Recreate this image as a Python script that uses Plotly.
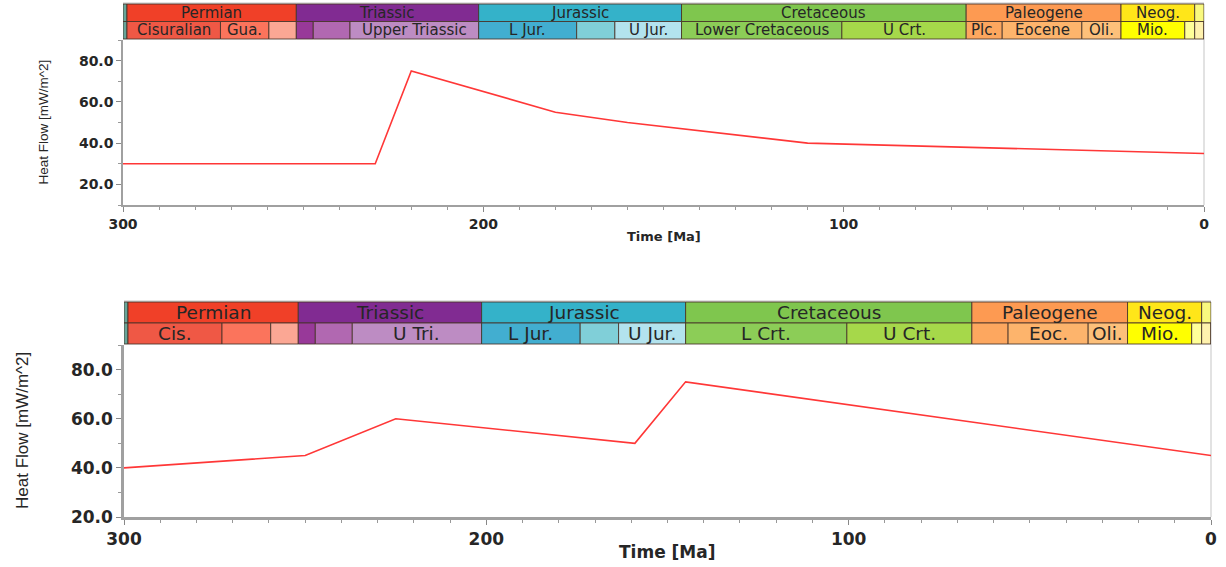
import plotly.graph_objects as go

# ---------------- data ----------------
top_time = [300, 230, 220, 180, 160, 110, 0]
top_heat = [30, 30, 75, 55, 50, 40, 35]

bot_time = [300, 250, 225, 159, 145, 0]
bot_heat = [40, 45, 60, 50, 75, 45]

period_names = ["Carboniferous", "Permian", "Triassic", "Jurassic", "Cretaceous", "Paleogene", "Neogene", "Quaternary"]
period_start = [300, 298.9, 251.9, 201.3, 145.0, 66.0, 23.03, 2.58]
period_end = [298.9, 251.9, 201.3, 145.0, 66.0, 23.03, 2.58, 0]
period_colors = ["#67A599", "#F04028", "#812B92", "#34B2C9", "#7FC64E", "#FD9A52", "#FFE619", "#F9F97F"]
period_labels_top = ["", "Permian", "Triassic", "Jurassic", "Cretaceous", "Paleogene", "Neog.", ""]
period_labels_bot = ["", "Permian", "Triassic", "Jurassic", "Cretaceous", "Paleogene", "Neog.", ""]

epoch_start = [300, 298.9, 272.95, 259.51, 251.9, 247.2, 237.0, 201.3, 174.1, 163.5, 145.0, 100.5, 66.0, 56.0, 33.9, 23.03, 5.333, 2.58, 0.0117]
epoch_end = [298.9, 272.95, 259.51, 251.9, 247.2, 237.0, 201.3, 174.1, 163.5, 145.0, 100.5, 66.0, 56.0, 33.9, 23.03, 5.333, 2.58, 0.0117, 0]
epoch_colors = ["#67A599", "#EF5845", "#FB745C", "#FBA794", "#983999", "#B168B1", "#BD8CC3",
                "#42AED0", "#80CFD8", "#B3E3EE", "#8CCD57", "#A6D84A", "#FDA75F", "#FDB46C",
                "#FDC07A", "#FFFF00", "#FFFF99", "#FFF2AE", "#FEF2E0"]
epoch_labels_top = ["", "Cisuralian", "Gua.", "", "", "", "Upper Triassic", "L Jur.", "", "U Jur.",
                    "Lower Cretaceous", "U Crt.", "Plc.", "Eocene", "Oli.", "Mio.", "", "", ""]
epoch_labels_bot = ["", "Cis.", "", "", "", "", "U Tri.", "L Jur.", "", "U Jur.",
                    "L Crt.", "U Crt.", "", "Eoc.", "Oli.", "Mio.", "", "", ""]

W, H = 1226, 567


def px_y(py):
    return 1 - py / H


panels = [
    dict(xa="x", ya="y", xdom=(123 / W, 1204 / W), ydom=(px_y(205), px_y(40)),
         yrange=[10, 90], strip=(4, 21.5, 39), t=top_time, v=top_heat,
         plab=period_labels_top, elab=epoch_labels_top,
         fs_strip=15, fs_tick=14, fs_xt=13, fs_yt=13.5, ytitle_x=43 / W, xtitle_y=px_y(237),
         lw=1.5),
    dict(xa="x2", ya="y2", xdom=(124 / W, 1211 / W), ydom=(px_y(517), px_y(345)),
         yrange=[20, 90], strip=(302, 323, 344), t=bot_time, v=bot_heat,
         plab=period_labels_bot, elab=epoch_labels_bot,
         fs_strip=18.5, fs_tick=17, fs_xt=17, fs_yt=17, ytitle_x=22 / W, xtitle_y=px_y(552),
         lw=2.5),
]

fig = go.Figure()
shapes = []
annotations = []
FONT = "DejaVu Sans"
TXT = "#262626"
border = "rgba(70,50,40,0.85)"

for i, p in enumerate(panels):
    fig.add_trace(go.Scatter(x=p["t"], y=p["v"], mode="lines",
                             line=dict(color="rgb(255,55,55)", width=1.6),
                             xaxis=p["xa"], yaxis=p["ya"], showlegend=False,
                             hoverinfo="skip"))
    suffix = "" if i == 0 else "2"
    axis_common = dict(showgrid=False, zeroline=False, showline=True, automargin=False,
                       linecolor="#a0a0a0", linewidth=p["lw"], ticks="outside",
                       ticklen=5, tickcolor="#888", tickwidth=1,
                       tickfont=dict(family=FONT, size=p["fs_tick"], color=TXT, weight="bold"))
    fig.update_layout(**{
        "xaxis" + suffix: dict(domain=list(p["xdom"]), range=[300, 0], dtick=100, tick0=0,
                               anchor="y" + suffix,
                               minor=dict(dtick=10, ticks="outside", ticklen=3, tickcolor="#999"),
                               **axis_common),
        "yaxis" + suffix: dict(domain=list(p["ydom"]), range=p["yrange"], dtick=20, tick0=0,
                               tickformat=".1f", anchor="x" + suffix,
                               minor=dict(dtick=10, ticks="outside", ticklen=3, tickcolor="#999"),
                               **axis_common),
    })
    # light frame on top/right
    shapes.append(dict(type="line", xref="paper", yref="paper",
                       x0=p["xdom"][1], x1=p["xdom"][1], y0=p["ydom"][0], y1=px_y(p["strip"][0]),
                       line=dict(color="#d8d8d8", width=1.5), layer="below"))
    shapes.append(dict(type="line", xref="paper", yref="paper",
                       x0=p["xdom"][0], x1=p["xdom"][1], y0=px_y(p["strip"][0] - 1), y1=px_y(p["strip"][0] - 1),
                       line=dict(color="#d8d8d8", width=1.5), layer="below"))
    y_top, y_mid, y_bot = [px_y(v) for v in p["strip"]]
    # period row
    for s, e, c, lab in zip(period_start, period_end, period_colors, p["plab"]):
        shapes.append(dict(type="rect", xref=p["xa"], yref="paper", x0=s, x1=e, y0=y_mid, y1=y_top,
                           fillcolor=c, line=dict(color=border, width=1)))
        if lab:
            annotations.append(dict(xref=p["xa"], yref="paper", x=(s + e) / 2, y=(y_mid + y_top) / 2,
                                    text=lab, showarrow=False, yanchor="middle", xanchor="center",
                                    font=dict(family=FONT, size=p["fs_strip"], color=TXT)))
    # epoch row
    for s, e, c, lab in zip(epoch_start, epoch_end, epoch_colors, p["elab"]):
        shapes.append(dict(type="rect", xref=p["xa"], yref="paper", x0=s, x1=e, y0=y_bot, y1=y_mid,
                           fillcolor=c, line=dict(color=border, width=1)))
        if lab:
            annotations.append(dict(xref=p["xa"], yref="paper", x=(s + e) / 2, y=(y_bot + y_mid) / 2,
                                    text=lab, showarrow=False, yanchor="middle", xanchor="center",
                                    font=dict(family=FONT, size=p["fs_strip"], color=TXT)))
    # axis titles
    annotations.append(dict(xref="paper", yref="paper", x=(p["xdom"][0] + p["xdom"][1]) / 2,
                            y=p["xtitle_y"], text="<b>Time [Ma]</b>", showarrow=False,
                            xanchor="center", yanchor="middle",
                            font=dict(family=FONT, size=p["fs_xt"], color=TXT)))
    annotations.append(dict(xref="paper", yref="paper", x=p["ytitle_x"],
                            y=(p["ydom"][0] + p["ydom"][1]) / 2, text="Heat Flow [mW/m^2]",
                            showarrow=False, textangle=-90, xanchor="center", yanchor="middle",
                            font=dict(family="Liberation Sans", size=p["fs_yt"], color=TXT)))

fig.update_layout(width=W, height=H, margin=dict(l=0, r=0, t=0, b=0, autoexpand=False),
                  paper_bgcolor="white", plot_bgcolor="white",
                  shapes=shapes, annotations=annotations)

fig.write_html("out.html", config={"displayModeBar": False},
               post_script="document.body.style.margin='0px'; document.body.style.overflow='hidden';")
